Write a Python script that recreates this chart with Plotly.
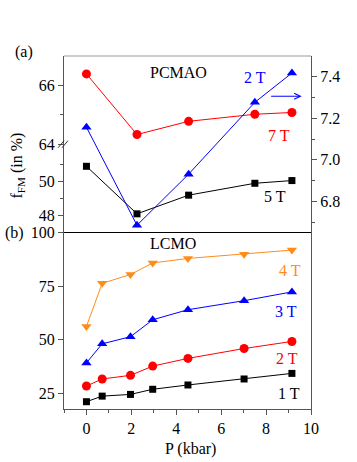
import plotly.graph_objects as go

# ---------------------------------------------------------------------------
# Data
# ---------------------------------------------------------------------------
# (a) PCMAO
p_a = [0, 2.25, 4.55, 7.5, 9.15]
pcmao_7t = [66.39, 64.33, 64.78, 65.02, 65.08]     # left axis, upper segment
pcmao_5t = [50.88, 48.08, 49.18, 49.88, 50.04]     # left axis, lower segment
pcmao_2t = [7.157, 6.685, 6.931, 7.277, 7.418]     # right axis

# (b) LCMO
p_b = [0, 0.7, 1.96, 2.95, 4.52, 7.02, 9.15]
lcmo_4t = [56.2, 76.3, 80.4, 85.8, 87.9, 89.9, 91.8]
lcmo_3t = [39.2, 48.1, 51.4, 59.3, 64.0, 68.2, 72.3]
lcmo_2t = [28.4, 31.7, 33.4, 37.7, 41.3, 45.9, 49.2]
lcmo_1t = [21.1, 23.7, 24.5, 26.9, 28.9, 31.7, 34.3]

x_ticks = [0, 2, 4, 6, 8, 10]
b_ticks = [25, 50, 75, 100]
a_low_ticks = [48, 50]
a_up_ticks = [64, 66]
a_right_ticks = [6.8, 7.0, 7.2, 7.4]

FONT = "Liberation Serif"
RED = "#ff0000"
BLUE = "#0000ff"
BLACK = "#000000"
ORANGE = "#ff8c1a"
AX = "#555555"

fig = go.Figure()


def _line(x, y, color, symbol, size, yaxis):
    fig.add_trace(go.Scatter(
        x=x, y=y, mode="lines+markers", yaxis=yaxis,
        line=dict(color=color, width=1),
        marker=dict(color=color, symbol=symbol, size=size),
        showlegend=False, cliponaxis=False,
    ))


_line(p_a, pcmao_7t, RED, "circle", 9, "y3")
_line(p_a, pcmao_5t, BLACK, "square", 7, "y2")
_line(p_a, pcmao_2t, BLUE, "triangle-up", 9, "y4")

_line(p_b, lcmo_4t, ORANGE, "triangle-down", 9, "y")
_line(p_b, lcmo_3t, BLUE, "triangle-up", 9, "y")
_line(p_b, lcmo_2t, RED, "circle", 9, "y")
_line(p_b, lcmo_1t, BLACK, "square", 7, "y")

tick_font = dict(family=FONT, size=16, color="black")
common = dict(showline=True, linecolor=AX, linewidth=1, ticks="outside",
              ticklen=5, tickcolor=AX, showgrid=False, zeroline=False,
              tickfont=tick_font)

fig.update_layout(
    width=357, height=462,
    margin=dict(l=63.5, r=45.5, t=55.7, b=53),
    paper_bgcolor="white", plot_bgcolor="rgba(0,0,0,0)",
    font=dict(family=FONT, size=16, color="black"),
    xaxis=dict(range=[-1, 10], tickvals=x_ticks, anchor="y",
               minor=dict(ticks="outside", dtick=1, ticklen=3, tickcolor=AX),
               **common),
    yaxis=dict(domain=[0, 0.5], range=[17.7, 100], tickvals=b_ticks,
               mirror=True, **common),
    yaxis2=dict(domain=[0.5, 0.75], range=[46.98, 52.18], tickvals=a_low_ticks,
                anchor="x",
                minor=dict(ticks="outside", tickvals=[49, 51], ticklen=3, tickcolor=AX),
                **common),
    yaxis3=dict(domain=[0.75, 1], range=[64, 67], tickvals=a_up_ticks,
                anchor="x",
                minor=dict(ticks="outside", tickvals=[65], ticklen=3, tickcolor=AX),
                **common),
    yaxis4=dict(domain=[0.5, 1], range=[6.65, 7.5], tickvals=a_right_ticks,
                ticktext=["6.8", "7.0", "7.2", "7.4"],
                anchor="x", side="right",
                minor=dict(ticks="outside", tickvals=[6.7, 6.9, 7.1, 7.3],
                           ticklen=3, tickcolor=AX),
                **common),
)

# frame pieces: top line of (a), divider between panels, axis break marks
fig.add_shape(type="line", xref="paper", yref="paper", x0=0, x1=1, y0=1, y1=1,
              line=dict(color="#999999", width=1))
fig.add_shape(type="line", xref="paper", yref="paper", x0=0, x1=1, y0=0.5, y1=0.5,
              line=dict(color="black", width=1))
for dx in (-0.012, 0.004):
    fig.add_shape(type="line", xref="paper", yref="paper",
                  x0=dx - 0.012, x1=dx + 0.012, y0=0.740, y1=0.760,
                  line=dict(color="#333333", width=1))


def _txt(x, y, text, color="black", **kw):
    fig.add_annotation(x=x, y=y, xref="paper", yref="paper", text=text,
                       showarrow=False, font=dict(family=FONT, size=16, color=color),
                       xanchor="center", yanchor="middle", **kw)


_txt(-0.163, 1.012, "(a)")
_txt(-0.2, 0.5, "(b)")
_txt(0.462, 0.954, "PCMAO")
_txt(0.443, 0.469, "LCMO")
_txt(0.772, 0.940, "2 T", BLUE)
_txt(0.869, 0.776, "7 T", RED)
_txt(0.853, 0.603, "5 T", BLACK)
_txt(0.917, 0.393, "4 T", ORANGE)
_txt(0.899, 0.275, "3 T", BLUE)
_txt(0.901, 0.144, "2 T", RED)
_txt(0.909, 0.043, "1 T", BLACK)
_txt(-0.19, 0.69, "f<sub>FM</sub> (in %)", textangle=-90)
_txt(0.514, -0.113, "P (kbar)")

# arrow pointing at the right axis
fig.add_annotation(x=0.962, y=0.886, xref="paper", yref="paper", text="",
                   showarrow=True, ax=-32, ay=0, arrowhead=5, arrowsize=1.2,
                   arrowwidth=1, arrowcolor=BLUE)

# the page's default 8px body margin would push the figure off the window
fig.write_html("out.html", config={"displayModeBar": False},
               post_script="document.body.style.margin='0';")
